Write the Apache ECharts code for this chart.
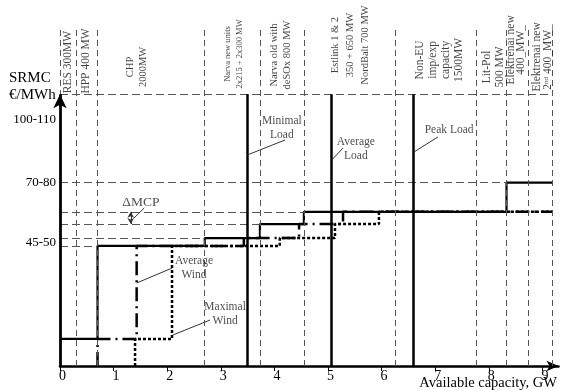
<!DOCTYPE html>
<html><head><meta charset="utf-8">
<script src="https://cdn.jsdelivr.net/npm/echarts@6/dist/echarts.min.js"></script>
<style>html,body{margin:0;padding:0;background:#fff}#c{width:561px;height:390px}</style>
</head><body><div id="c"></div>
<script>
const FONT = 'Liberation Serif';
const Y_MAX = 125;
const X_MAX = 9.3;
// Merit-order block boundaries (GW)
const boundaries = [0, 0.3, 0.7, 2.7, 3.73, 4.55, 6.25, 7.77, 8.33, 8.74, 9.19];
// Block captions (drawn rotated above the curve)
const blockLabels = ['RES 300MW','HPP 400 MW','CHP\n2000MW','Narva new units\n2x215 + 2x300 MW','Narva old with\ndeSOx 800 MW','Estlink 1 & 2\n350 + 650 MW\nNordBalt 700 MW','Non-EU\nimp/exp\ncapacity\n1500MW','Lit-Pol\n500 MW','Elektrenai new\n400_MW_','Elektrenai new\n{s|2}{sup|nd}{s| 400_MW_}'];
const blockLabelX = [0.15, 0.49, 1.44, 3.25, 4.12, 5.41, 7.08, 8.08, 8.51, 9.01];
const blockLabelY = [112.4, 112.8, 110.6, 115.4, 115.0, 118.7, 113.2, 110.6, 116.9, 114.3];
// Supply curves (step points, x in GW, y in SRMC scale units)
const noWindX  = [0, 0.7, 2.7, 3.73, 4.55, 8.33, 9.19];
const noWindY  = [10, 44.4, 47.3, 52.5, 57.0, 67.8, 67.8];
const avgWindX = [0.7, 0.7, 1.43, 3.43, 4.46, 5.28, 9.19];
const avgWindY = [0, 10, 44.4, 47.3, 52.5, 57.0, 57.0];
const maxWindX = [1.4, 1.4, 2.09, 4.1, 5.13, 5.95, 9.19];
const maxWindY = [0, 10, 44.4, 47.3, 52.5, 57.0, 57.0];
// Load levels (GW)
const loadX = [3.49, 5.06, 6.59];
const topLevel = 100.5;
// Y tick labels
const yTickValues = [45.5, 67.7, 91];
const yTickLabels = ['45-50', '70-80', '100-110'];
const xTicks = [0,1,2,3,4,5,6,7,8,9];
// Annotations
const notes = [
  {text:'Minimal\nLoad', x:4.14, y:88.0},
  {text:'Average\nLoad', x:5.52, y:80.25},
  {text:'Peak Load', x:7.26, y:87.3},
  {text:'Average\nWind', x:2.5, y:36.4},
  {text:'Maximal\nWind', x:3.08, y:19.4}
];
const deltaNote = {text:'ΔMCP', x:1.51, y:60.3};
const leaders = [
  [[4.2,83.6],[3.49,78.0]],
  [[5.28,80.6],[5.07,76.2]],
  [[7.05,84.7],[6.6,79.1]],
  [[1.38,54.7],[1.57,58.4]],
  [[2.09,36.2],[1.43,30.7]],
  [[2.8,17.0],[2.11,11.5]]
];
const deltaArrow = [[1.32,57.0],[1.32,52.5]];

const pts = (xs, ys) => xs.map((x,i)=>[x, ys[i]]);
const seg = (a,b) => [{coord:a},{coord:b}];

const vGuides = boundaries.map(x => seg([x,0],[x,Y_MAX]));
const hGuides = [];
for (let i=1;i<=5;i++) hGuides.push(seg([0,noWindY[i]],[noWindX[i],noWindY[i]]));
hGuides.push(seg([0,topLevel],[boundaries[boundaries.length-1],topLevel]));

function mlSeries(data, lineStyle, symbol, symbolSize){
  return {type:'line', data:[[0,0]], showSymbol:false, lineStyle:{width:0}, silent:true, z:2,
    markLine:{silent:true, animation:false, symbol: symbol||'none', symbolSize: symbolSize||8,
      label:{show:false}, lineStyle, emphasis:{disabled:true}, data}};
}

const stepLine = (data, lineStyle, z) => ({type:'line', step:'end', data, showSymbol:false, symbol:'none',
  lineStyle, silent:true, z, animation:false});

const labelSeries = {
  type:'scatter', symbolSize:0, silent:true, z:5, animation:false,
  data: blockLabels.map((t,i)=>({name:t, value:[blockLabelX[i], blockLabelY[i]]})),
  label:{show:true, position:'inside', rotate:90, formatter:p=>p.name, fontFamily:FONT, fontSize:11.5,
    lineHeight:13, color:'#111', align:'center', verticalAlign:'middle',
    rich:{s:{fontFamily:FONT,fontSize:11.5,color:'#111'}, sup:{fontFamily:FONT,fontSize:7,color:'#111',verticalAlign:'top',padding:[0,0,6,0]}}}
};
// per-label font tweaks
labelSeries.data[3].label = {fontSize:8.5, lineHeight:12};
labelSeries.data[4].label = {fontSize:10.5, lineHeight:13};
labelSeries.data[5].label = {fontSize:10.5, lineHeight:15};
labelSeries.data[2].label = {fontSize:10.5, lineHeight:13};
labelSeries.data[8].label = {fontSize:11.5, lineHeight:10};
labelSeries.data[9].label = {fontSize:11.5, lineHeight:11};

const noteSeries = {
  type:'scatter', symbolSize:0, silent:true, z:5, animation:false,
  data: notes.map(n=>({name:n.text, value:[n.x,n.y]})).concat([{name:deltaNote.text, value:[deltaNote.x,deltaNote.y], label:{fontSize:13.5}}]),
  label:{show:true, position:'inside', formatter:p=>p.name, fontFamily:FONT, fontSize:11.5, lineHeight:14,
    color:'#222', align:'center', verticalAlign:'middle'}
};

const option = {
  animation:false,
  backgroundColor:'#fff',
  grid:{left:60, right:2.5, top:28, bottom:24, containLabel:false},
  xAxis:{type:'value', min:0, max:X_MAX, interval:1,
    axisLine:{show:true, onZero:false, symbol:['none','arrow'], symbolSize:[8,12], lineStyle:{color:'#000', width:2.5}},
    axisTick:{show:true, inside:false, length:5, lineStyle:{color:'#000', width:1}},
    axisLabel:{show:true, showMaxLabel:false, color:'#000', fontFamily:FONT, fontSize:14, margin:3, padding:[0,0,0,5],
      formatter:v=> xTicks.indexOf(v)>=0 ? String(v) : ''},
    splitLine:{show:false}},
  yAxis:{type:'value', min:0, max:Y_MAX,
    axisLine:{show:false}, axisTick:{show:false}, splitLine:{show:false},
    axisLabel:{show:true, customValues:yTickValues, color:'#000', fontFamily:FONT, fontSize:13, margin:4,
      formatter:v=>{const i=yTickValues.indexOf(v); return i>=0?yTickLabels[i]:'';}}},
  graphic:[
    {type:'text', left:9, top:71, style:{text:'SRMC', fontFamily:FONT, fontSize:15, fill:'#000'}},
    {type:'text', left:9, top:88, style:{text:'€/MWh', fontFamily:FONT, fontSize:15, fill:'#000'}},
    {type:'text', right:4, top:376, style:{text:'Available capacity, GW', fontFamily:FONT, fontSize:14.5, fill:'#000'}}
  ],
  series:[
    mlSeries(vGuides, {type:[6,4], color:'#555', width:1}),
    mlSeries(hGuides, {type:[8,4], color:'#555', width:1}),
    stepLine(pts(noWindX,noWindY), {color:'#000', width:2.2, type:'solid'}, 4),
    stepLine(pts(avgWindX,avgWindY), {color:'#000', width:2.5, type:[14,5,2,5]}, 3),
    stepLine(pts(maxWindX,maxWindY), {color:'#000', width:2.5, type:[3,2]}, 3),
    mlSeries(loadX.map(x=>seg([x,0],[x,topLevel])), {type:'solid', color:'#000', width:2.5}),
    mlSeries(leaders.map(l=>seg(l[0],l[1])), {type:'solid', color:'#333', width:1}),
    mlSeries([seg(deltaArrow[0],deltaArrow[1])], {type:'solid', color:'#333', width:1}, ['arrow','arrow'], [5,6]),
    mlSeries([seg([0,0],[0,topLevel])], {type:'solid', color:'#000', width:2.8}, ['none','arrow'], [10,14]),
    labelSeries,
    noteSeries
  ]
};
const chart = echarts.init(document.getElementById('c'));
chart.setOption(option);
</script></body></html>
